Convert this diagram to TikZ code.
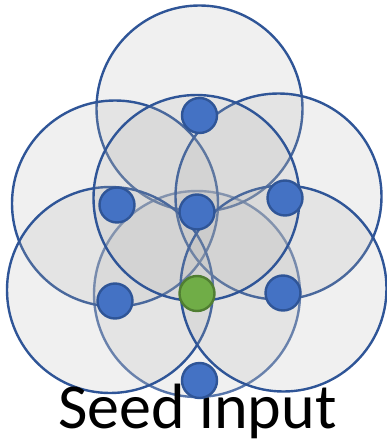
\documentclass[tikz,border=0pt]{standalone}
\usepackage{fontspec}
\setmainfont{Carlito}
\definecolor{cline}{RGB}{47,85,151}
\definecolor{cfill}{RGB}{180,180,180}
\definecolor{cdot}{RGB}{68,114,196}
\definecolor{cgreen}{RGB}{112,173,71}
\definecolor{cgreenline}{RGB}{80,126,50}
\tikzset{
  bigcirc/.style={draw=cline, line width=2.4pt, fill=cfill, fill opacity=0.2, draw opacity=1},
  bluedot/.style={circle, draw=cline, line width=2.4pt, fill=cdot, minimum size=35pt, inner sep=0pt},
  greendot/.style={circle, draw=cgreenline, line width=2.4pt, fill=cgreen, minimum size=35pt, inner sep=0pt},
  lbl/.style={font=\fontsize{64}{64}\selectfont, text=black, inner sep=0pt, anchor=base}
}
\begin{document}
\begin{tikzpicture}[x=1pt,y=-1pt]
\useasboundingbox (0,0) rectangle (387,441);
% big circles
\path[bigcirc, draw opacity=0.8] (197,294) circle (103);
\path[bigcirc] (199.5,108.5) circle (103);
\path[bigcirc] (115,203.5) circle (103);
\path[bigcirc] (278.5,196.5) circle (103);
\path[bigcirc] (110,290) circle (103);
\path[bigcirc] (283.5,288.5) circle (103);
\path[bigcirc] (196.5,198) circle (103);
% label
\node[lbl] (label) at (197.5,428) {Seed input};
% dots
\node[bluedot] (top) at (199.5,115.5) {};
\node[bluedot] (mid) at (197,212) {};
\node[bluedot] (lu) at (117,205) {};
\node[bluedot] (ru) at (285,198) {};
\node[bluedot] (ll) at (115,301) {};
\node[bluedot] (rl) at (283,293) {};
\node[bluedot] (bot) at (199.5,380.5) {};
\node[greendot] (seed) at (197,293.5) {};
\end{tikzpicture}
\end{document}
